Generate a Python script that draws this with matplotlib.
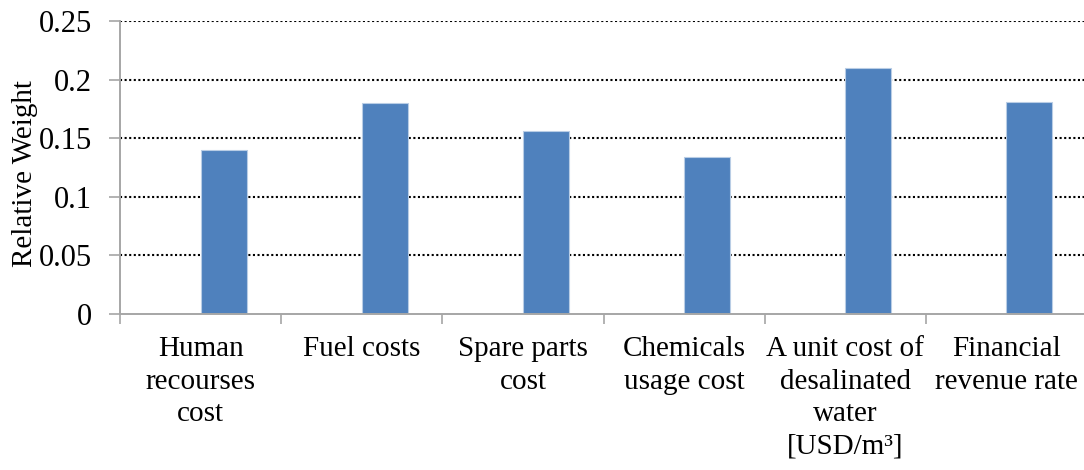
import matplotlib.pyplot as plt
import numpy as np

CATEGORIES = [
    "Human\nrecourses\ncost",
    "Fuel costs",
    "Spare parts\ncost",
    "Chemicals\nusage cost",
    "A unit cost of\ndesalinated\nwater\n[USD/m³]",
    "Financial\nrevenue rate",
]
WEIGHTS = [0.14, 0.18, 0.156, 0.134, 0.21, 0.181]
Y_TICKS = [0, 0.05, 0.1, 0.15, 0.2, 0.25]
Y_TICK_LABELS = ["0", "0.05", "0.1", "0.15", "0.2", "0.25"]

BAR_COLOR = "#4F81BD"
SPINE_COLOR = "#A6A6A6"

plt.rcParams.update(
    {
        "font.family": ["Liberation Serif", "DejaVu Serif"],
        "font.size": 21,
    }
)

fig = plt.figure(figsize=(10.84, 4.70), dpi=100)
W, H = 1084, 470
ax = fig.add_axes([120 / W, 1 - 314 / H, (1087 - 120) / W, (314 - 21) / H])

x = np.arange(len(CATEGORIES))
bar_w = 0.285
# bars sit to the right of each category centre (second slot of a two-slot group)
ax.bar(x, WEIGHTS, width=bar_w, align="edge", color=BAR_COLOR,
       edgecolor="#B9CDE5", linewidth=0.8, zorder=3)

ax.set_xlim(-0.5, len(CATEGORIES) - 0.5)
ax.set_ylim(0, 0.25)

ax.set_yticks(Y_TICKS)
ax.set_yticklabels(Y_TICK_LABELS, fontsize=22)
ax.tick_params(axis="y", direction="out", length=8, width=1.2,
               color=SPINE_COLOR, pad=12)

ax.set_xticks(x)
ax.set_xticklabels(CATEGORIES, fontsize=21, linespacing=1.32)
ax.tick_params(axis="x", which="major", length=0, pad=16)
ax.set_xticks(np.arange(-0.5, len(CATEGORIES)), minor=True)
ax.tick_params(axis="x", which="minor", direction="out", length=7,
               width=1.2, color=SPINE_COLOR)

for y in Y_TICKS[1:]:
    ax.axhline(y, color="black", linestyle=(0, (1, 1.2)), linewidth=1.5, zorder=1)

for side in ["top", "right"]:
    ax.spines[side].set_visible(False)
for side in ["left", "bottom"]:
    ax.spines[side].set_color(SPINE_COLOR)
    ax.spines[side].set_linewidth(1.4)
ax.spines["bottom"].set_zorder(4)

fig.text(25 / W, 1 - 174 / H, "Relative Weight", rotation=90,
         ha="center", va="center", fontsize=21)

fig.savefig("out.png", dpi=100)
